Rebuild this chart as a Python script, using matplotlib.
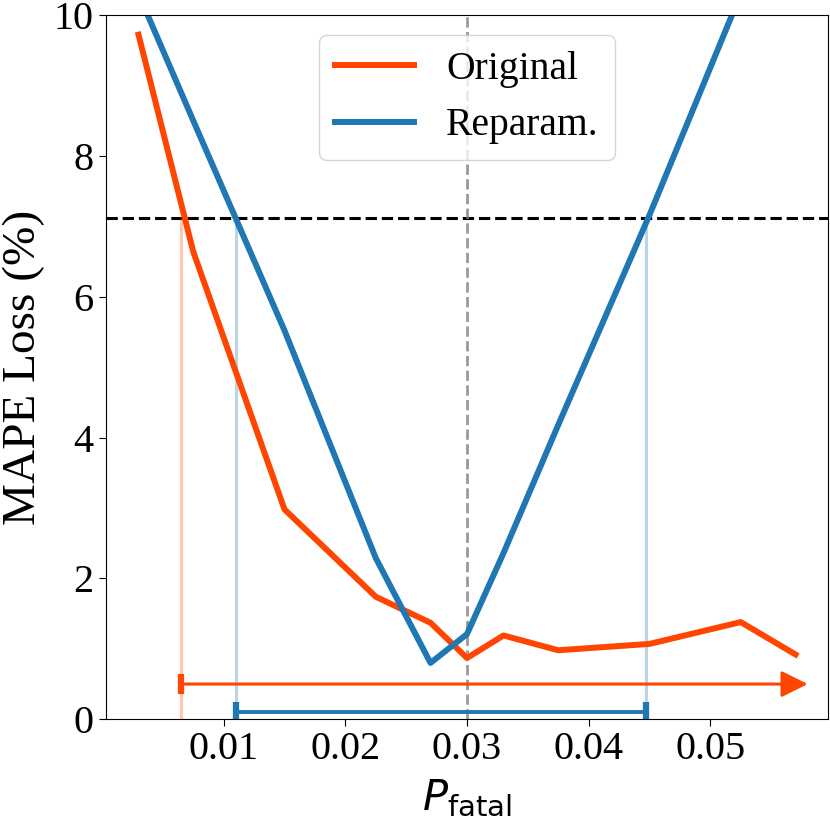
import numpy as np
import matplotlib
matplotlib.use("Agg")
import matplotlib.pyplot as plt

plt.rcParams['font.family'] = ['Liberation Serif', 'DejaVu Serif']
plt.rcParams['mathtext.fontset'] = 'dejavusans'

# Data
p_fatal = [0.003, 0.0075, 0.015, 0.0225, 0.027, 0.030, 0.033, 0.0375, 0.045, 0.0525, 0.057]
loss_original = [9.72, 6.64, 2.98, 1.74, 1.37, 0.87, 1.19, 0.98, 1.07, 1.38, 0.92]
loss_reparam = [10.3, 8.5, 5.52, 2.29, 0.80, 1.21, 2.36, 4.18, 7.16, 10.3, 12.0]

threshold = 7.12
p_true = 0.03
orig_lo, orig_hi = 0.00647, 0.0580  # original interval (open to the right)
rep_lo, rep_hi = 0.01098, 0.04473

c_orig = '#FF4500'
c_rep = '#1f77b4'

fig = plt.figure(figsize=(8.3, 8.24), dpi=100)
ax = fig.add_axes([0.1273, 0.1271, 0.8707, 0.8547])

ax.plot(p_fatal, loss_original, color=c_orig, lw=4.3, label='Original')
ax.plot(p_fatal, loss_reparam, color=c_rep, lw=4.3, label='Reparam.')

ax.axhline(threshold, color='black', ls='--', lw=2.2, zorder=1)
ax.axvline(p_true, color='gray', ls='--', lw=2, alpha=0.8, zorder=1)

# crossings with the threshold
ax.vlines([orig_lo], 0, threshold, color=c_orig, alpha=0.3, lw=2.2, zorder=1)
ax.vlines([rep_lo, rep_hi], 0, threshold, color=c_rep, alpha=0.3, lw=2.2, zorder=1)

# intervals
ax.annotate('', xy=(orig_hi, 0.5), xytext=(orig_lo, 0.5),
            arrowprops=dict(arrowstyle='-|>', color=c_orig, lw=2.2,
                            mutation_scale=40, shrinkA=0, shrinkB=0))
ax.plot([orig_lo], [0.5], marker='|', ms=14, mew=4.5, color=c_orig)
ax.plot([rep_lo, rep_hi], [0.1, 0.1], color=c_rep, lw=2.8)
ax.plot([rep_lo, rep_hi], [0.1, 0.1], ls='none', marker='|', ms=14, mew=4.5, color=c_rep)

ax.set_xlim(0.0003, 0.0597)
ax.set_ylim(0, 10)
ax.set_xticks([0.01, 0.02, 0.03, 0.04, 0.05])
ax.set_yticks([0, 2, 4, 6, 8, 10])
ax.tick_params(labelsize=29, length=5)

ax.set_xlabel(r'$P_{\mathrm{fatal}}$', fontsize=30, labelpad=7)
ax.set_ylabel('MAPE Loss (%)', fontsize=34, labelpad=6)

ax.legend(loc='upper center', fontsize=28.5)

fig.savefig('out.png', dpi=100)
